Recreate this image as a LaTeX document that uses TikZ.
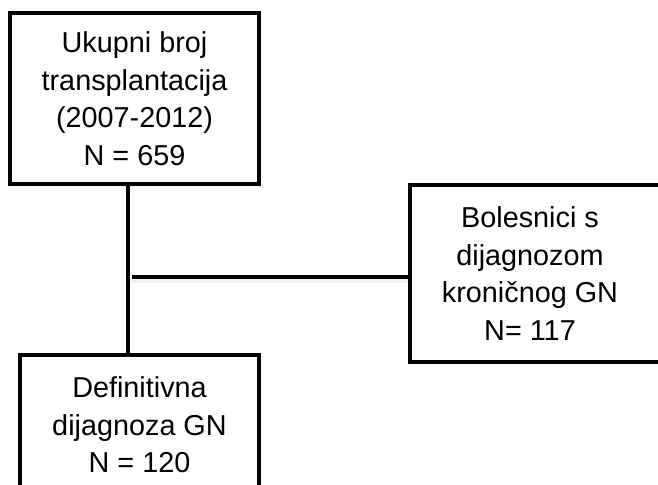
\documentclass[tikz,border=0pt]{standalone}
\usepackage{fontspec}
\setmainfont{Liberation Sans}
\begin{document}
\begin{tikzpicture}[x=0.5pt, y=-0.5pt, draw=black,
  box/.style={draw, line width=2.4pt, align=center, inner sep=0pt,
    font=\fontsize{14.4}{18.8}\selectfont},
  link/.style={line width=2pt}]
\useasboundingbox (0,0) rectangle (658,484);
\clip (0,0) rectangle (658,484);

\node[box, minimum width=124.5pt, minimum height=85.5pt] (total) at (134.5,98.5)
  {Ukupni broj\\transplantacija\\(2007-2012)\\N = 659};

\node[box, minimum width=128pt, minimum height=88.5pt] (chronic) at (538,273.5)
  {\hspace*{-8pt}Bolesnici s\\\hspace*{-8pt}dijagnozom\\\hspace*{-8pt}kroničnog GN\\\hspace*{-8pt}N= 117};

\node[box, minimum width=119.5pt, minimum height=70pt] (final) at (139.5,425)
  {Definitivna\\dijagnoza GN\\N = 120};

\coordinate (split) at (128,277);

% trunk and branch
\draw[link] (split |- total.south) -- (split |- final.north);
\draw[link, gray!12, line width=3pt] ([xshift=2pt, yshift=-1.5pt]split) -- ([yshift=-1.5pt]split -| chronic.west);
\draw[link] ([xshift=2pt]split) -- (split -| chronic.west);
\end{tikzpicture}
\end{document}
